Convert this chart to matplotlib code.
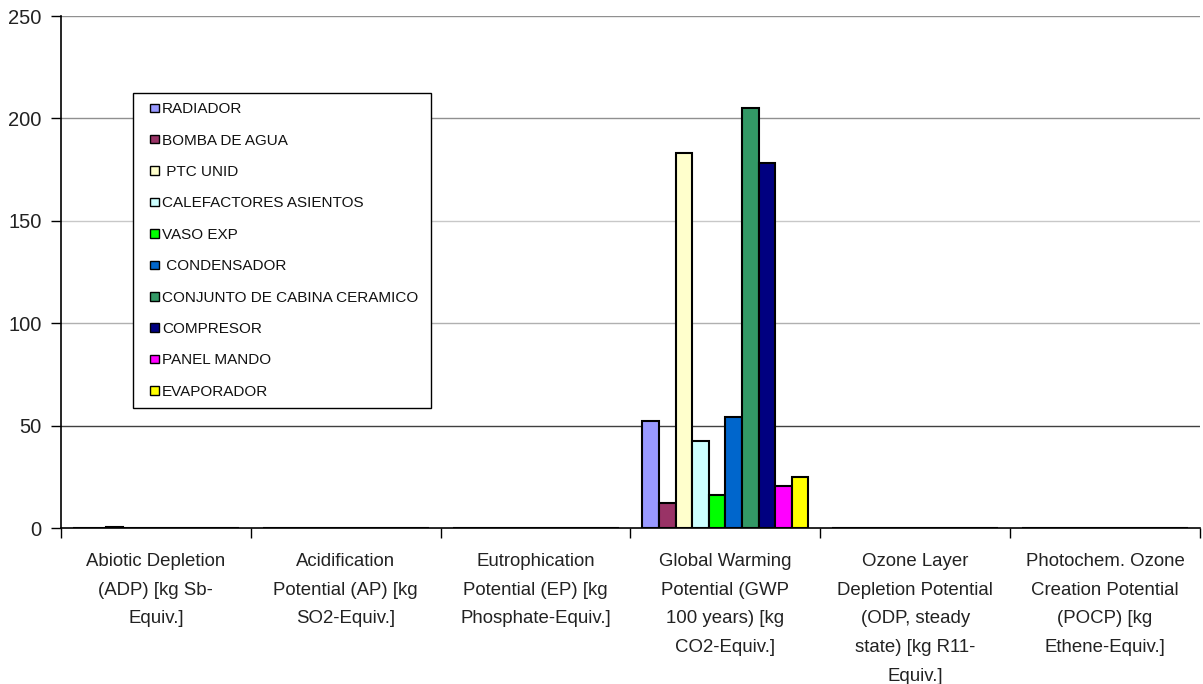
import matplotlib
matplotlib.use("Agg")
import matplotlib.pyplot as plt
from matplotlib.patches import Rectangle
from matplotlib.legend_handler import HandlerPatch
import numpy as np

plt.rcParams['font.family'] = ['Liberation Sans', 'DejaVu Sans']

categories = [
    "Abiotic Depletion\n(ADP) [kg Sb-\nEquiv.]",
    "Acidification\nPotential (AP) [kg\nSO2-Equiv.]",
    "Eutrophication\nPotential (EP) [kg\nPhosphate-Equiv.]",
    "Global Warming\nPotential (GWP\n100 years) [kg\nCO2-Equiv.]",
    "Ozone Layer\nDepletion Potential\n(ODP, steady\nstate) [kg R11-\nEquiv.]",
    "Photochem. Ozone\nCreation Potential\n(POCP) [kg\nEthene-Equiv.]",
]

series_names = ["RADIADOR", "BOMBA DE AGUA", " PTC UNID", "CALEFACTORES ASIENTOS",
                "VASO EXP", " CONDENSADOR", "CONJUNTO DE CABINA CERAMICO",
                "COMPRESOR", "PANEL MANDO", "EVAPORADOR"]

radiador    = [0.0, 0.0, 0.0, 52.2, 0.0, 0.0]
bomba       = [0.0, 0.0, 0.0, 12.0, 0.0, 0.0]
ptc         = [0.3, 0.0, 0.0, 183.3, 0.0, 0.0]
calef       = [0.0, 0.0, 0.0, 42.6, 0.0, 0.0]
vaso        = [0.0, 0.0, 0.0, 16.1, 0.0, 0.0]
condensador = [0.0, 0.0, 0.0, 54.4, 0.0, 0.0]
conjunto    = [0.0, 0.0, 0.0, 204.9, 0.0, 0.0]
compresor   = [0.0, 0.0, 0.0, 178.4, 0.0, 0.0]
panel       = [0.0, 0.0, 0.0, 20.5, 0.0, 0.0]
evaporador  = [0.0, 0.0, 0.0, 24.7, 0.0, 0.0]

series_values = [radiador, bomba, ptc, calef, vaso, condensador, conjunto,
                 compresor, panel, evaporador]
colors = ["#9999FF", "#993366", "#FFFFCC", "#CCFFFF", "#00FF00", "#0066CC",
          "#339966", "#000080", "#FF00FF", "#FFFF00"]

fig = plt.figure(figsize=(12.03, 6.84), dpi=100)
ax = fig.add_axes([61/1203, 1 - 528/684, (1200-61)/1203, (528-16)/684])

x = np.arange(len(categories))
n = len(series_names)
w = 0.0874
for i, (name, vals, c) in enumerate(zip(series_names, series_values, colors)):
    ax.bar(x + (i - (n - 1) / 2) * w, vals, width=w, color=c, edgecolor='black',
           linewidth=1.5, label=name, zorder=3)

ax.set_xlim(-0.5, len(categories) - 0.5)
ax.set_ylim(0, 250)
ax.set_yticks([0, 50, 100, 150, 200, 250])
for yv, col in [(50, '#404040'), (100, '#b0b0b0'), (150, '#c8c8c8'), (200, '#909090'), (250, '#909090')]:
    ax.axhline(yv, color=col, linewidth=1.0, zorder=1)

ax.set_xticks(x)
ax.set_xticklabels(categories, fontsize=13.4, color='#222222', linespacing=1.9, va='top')
ax.tick_params(axis='x', which='major', length=0, pad=18)
ax.set_xticks(np.arange(len(categories) + 1) - 0.5, minor=True)
ax.tick_params(axis='x', which='minor', length=7, width=1, direction='out')
ax.tick_params(axis='y', length=7, width=1, direction='out', labelsize=14.5, pad=7,
               labelcolor='#222222')

for s in ['top', 'right']:
    ax.spines[s].set_visible(False)
ax.spines['left'].set_linewidth(1.2)
ax.spines['bottom'].set_linewidth(1.2)


def square_patch(legend, orig_handle, xdescent, ydescent, width, height, fontsize):
    s = 8.5 * 72 / 100
    return Rectangle((-xdescent + width - s, -ydescent + (height - s) / 2), s, s,
                     facecolor=orig_handle.get_facecolor(), edgecolor='black', linewidth=1.3)


proxies = [Rectangle((0, 0), 1, 1, facecolor=c, edgecolor='black') for c in colors]
leg = ax.legend(proxies, series_names, loc='upper left',
                bbox_to_anchor=(133/1203, 1 - 408/684, 298/1203, 315/684),
                bbox_transform=fig.transFigure, mode='expand', borderaxespad=0,
                fontsize=11, frameon=True, fancybox=False, framealpha=1, edgecolor='black',
                handlelength=1.1, handleheight=0.6, handletextpad=0.2,
                labelspacing=1.14, borderpad=0.6,
                handler_map={Rectangle: HandlerPatch(patch_func=square_patch)})
leg.get_frame().set_linewidth(1.0)
for t in leg.get_texts():
    t.set_color('#111111')

fig.savefig("out.png", dpi=100)
